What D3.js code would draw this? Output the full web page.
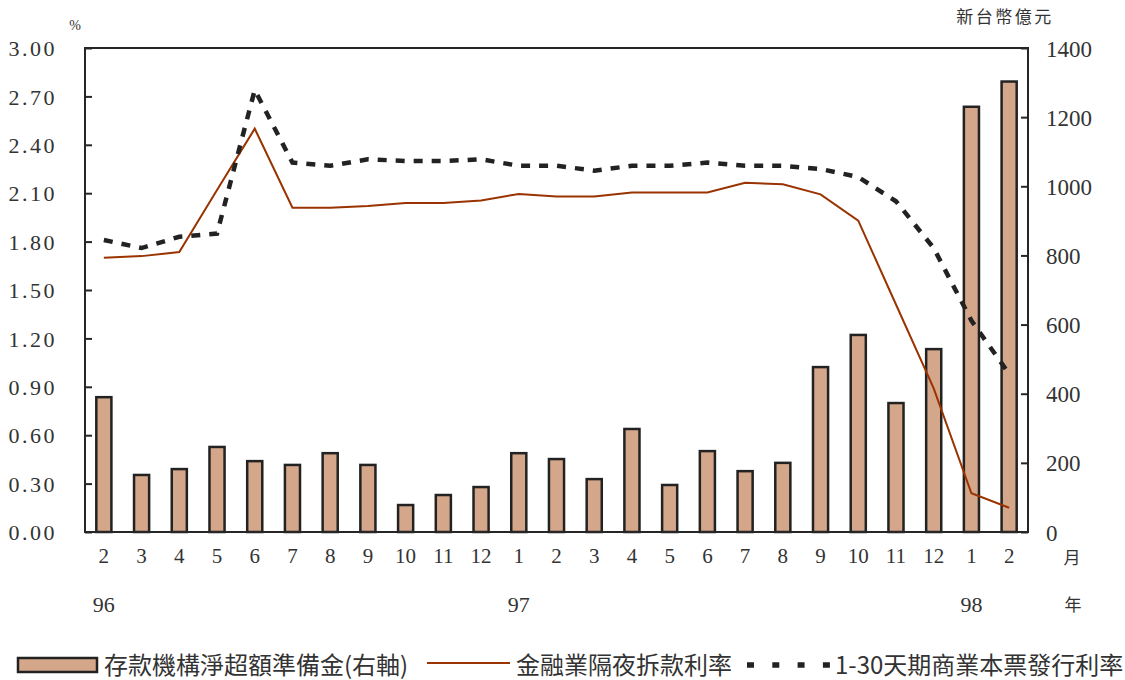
<!DOCTYPE html>
<html>
<head>
<meta charset="utf-8">
<script src="https://cdn.jsdelivr.net/npm/d3@7/dist/d3.min.js"></script>
<style>
  html, body { margin: 0; padding: 0; background: #fff; }
  svg { display: block; }
  .num { font-family: "Liberation Serif", "DejaVu Serif", serif; fill: #333; }
  .cjk { font-family: "Noto Sans CJK TC", "Noto Sans CJK SC", sans-serif; fill: #333; }
</style>
</head>
<body>
<svg id="chart" width="1125" height="680"></svg>
<script>
// Monthly categories, Feb 1996 to Feb 1998 (ROC years 96–98)
const months = ["2","3","4","5","6","7","8","9","10","11","12","1","2","3","4","5","6","7","8","9","10","11","12","1","2"];
const years = [{ label: "96", at: 0 }, { label: "97", at: 11 }, { label: "98", at: 23 }];

// Net excess reserves of depository institutions (NT$ 100 million, right axis)
const excessReserves = [390,165,182,246,205,194,228,194,78,107,130,228,211,153,298,136,234,176,200,477,570,373,529,1230,1303];

// Interbank overnight call-loan rate (%)
const overnightRate = [1.70,1.71,1.735,2.12,2.50,2.01,2.01,2.02,2.04,2.04,2.055,2.095,2.08,2.08,2.105,2.105,2.105,2.165,2.155,2.093,1.93,1.41,0.89,0.24,0.15];

// 1–30 day commercial paper issuance rate (%)
const cpRate = [1.81,1.76,1.83,1.85,2.74,2.29,2.27,2.31,2.30,2.30,2.31,2.27,2.27,2.24,2.27,2.27,2.29,2.27,2.27,2.25,2.20,2.05,1.76,1.31,0.98];

const leftTicks = [0,0.3,0.6,0.9,1.2,1.5,1.8,2.1,2.4,2.7,3.0];
const rightTicks = [0,200,400,600,800,1000,1200,1400];

const legendLabels = ["存款機構淨超額準備金(右軸)", "金融業隔夜拆款利率", "1-30天期商業本票發行利率"];

const svg = d3.select("#chart");
const plot = { left: 85, right: 1028, top: 48, bottom: 532 };

const idx = d3.range(months.length);
const x = d3.scaleBand().domain(idx).range([plot.left, plot.right]).paddingInner(0.6).paddingOuter(0.3);
const cx = i => x(i) + x.bandwidth() / 2;
const yL = d3.scaleLinear().domain([0, 3]).range([plot.bottom, plot.top]);
const yR = d3.scaleLinear().domain([0, 1400]).range([plot.bottom, plot.top]);

const axisColor = "#262626";

// Bars (right axis)
svg.append("g").selectAll("rect").data(excessReserves).join("rect")
  .attr("x", (d, i) => x(i))
  .attr("y", d => yR(d))
  .attr("width", x.bandwidth())
  .attr("height", d => yR(0) - yR(d))
  .attr("fill", "#d4a78a")
  .attr("stroke", "#222")
  .attr("stroke-width", 2.5);

// Lines (left axis)
const line = d3.line().x((d, i) => cx(i)).y(d => yL(d));
svg.append("path").datum(overnightRate)
  .attr("d", line).attr("fill", "none")
  .attr("stroke", "#993300").attr("stroke-width", 2);
svg.append("path").datum(cpRate)
  .attr("d", line).attr("fill", "none")
  .attr("stroke", "#222").attr("stroke-width", 4.5)
  .attr("stroke-dasharray", "9,9");

// Frame
svg.append("rect")
  .attr("x", plot.left).attr("y", plot.top)
  .attr("width", plot.right - plot.left).attr("height", plot.bottom - plot.top)
  .attr("fill", "none").attr("stroke", axisColor).attr("stroke-width", 2);

// Left axis
const leftAxis = svg.append("g").attr("transform", `translate(${plot.left},0)`)
  .call(d3.axisRight(yL).tickValues(leftTicks).tickSize(7).tickFormat(d3.format(".2f")));
leftAxis.select(".domain").remove();
leftAxis.selectAll(".tick line").attr("stroke", axisColor).attr("stroke-width", 2);
leftAxis.selectAll(".tick text")
  .attr("class", "num")
  .attr("x", -28).attr("dy", "0.35em")
  .attr("text-anchor", "end")
  .style("font-size", "22px").style("letter-spacing", "2.5px")
  .style("font-family", "'Liberation Serif', serif").attr("fill", "#333");

// Right axis
const rightAxis = svg.append("g").attr("transform", `translate(${plot.right},0)`)
  .call(d3.axisLeft(yR).tickValues(rightTicks).tickSize(7).tickFormat(d3.format("d")));
rightAxis.select(".domain").remove();
rightAxis.selectAll(".tick line").attr("stroke", axisColor).attr("stroke-width", 2);
rightAxis.selectAll(".tick text")
  .attr("x", 18).attr("dy", "0.35em")
  .attr("text-anchor", "start")
  .style("font-size", "23px")
  .style("font-family", "'Liberation Serif', serif").attr("fill", "#333");

// Month labels
const xAxis = svg.append("g").attr("transform", `translate(0,${plot.bottom})`)
  .call(d3.axisBottom(x).tickSize(0).tickFormat(i => months[i]));
xAxis.select(".domain").remove();
xAxis.selectAll(".tick text")
  .attr("y", 31).attr("dy", 0)
  .style("font-size", "21px")
  .style("font-family", "'Liberation Serif', serif").attr("fill", "#333");

// Year labels
svg.append("g").selectAll("text").data(years).join("text")
  .attr("class", "num")
  .attr("x", d => cx(d.at)).attr("y", 612)
  .attr("text-anchor", "middle")
  .style("font-size", "22px")
  .text(d => d.label);

// Unit labels
svg.append("text").attr("class", "cjk").attr("x", 1072).attr("y", 564)
  .attr("text-anchor", "middle").style("font-size", "17px").text("月");
svg.append("text").attr("class", "cjk").attr("x", 1073).attr("y", 611)
  .attr("text-anchor", "middle").style("font-size", "17px").text("年");
svg.append("text").attr("class", "cjk").attr("x", 1005).attr("y", 23)
  .attr("text-anchor", "middle").style("font-size", "17px").style("letter-spacing", "2.5px").text("新台幣億元");
svg.append("text").attr("class", "num").attr("x", 75).attr("y", 30)
  .attr("text-anchor", "middle").style("font-size", "14px").text("%");

// Legend
const lg = svg.append("g");
const ly = 665;
lg.append("rect").attr("x", 18).attr("y", 658).attr("width", 79).attr("height", 14)
  .attr("fill", "#d4a78a").attr("stroke", "#222").attr("stroke-width", 2.5);
lg.append("text").attr("class", "cjk").attr("x", 104).attr("y", ly).attr("dy", "0.36em")
  .style("font-size", "24px").text(legendLabels[0]);
lg.append("line").attr("x1", 427).attr("x2", 510).attr("y1", ly - 2).attr("y2", ly - 2)
  .attr("stroke", "#993300").attr("stroke-width", 2);
lg.append("text").attr("class", "cjk").attr("x", 516).attr("y", ly).attr("dy", "0.36em")
  .style("font-size", "24px").text(legendLabels[1]);
lg.append("line").attr("x1", 747).attr("x2", 830).attr("y1", ly).attr("y2", ly)
  .attr("stroke", "#222").attr("stroke-width", 5.5).attr("stroke-dasharray", "7,18.3");
lg.append("text").attr("class", "cjk").attr("x", 835).attr("y", ly).attr("dy", "0.36em")
  .style("font-size", "24px").text(legendLabels[2]);
</script>
</body>
</html>
